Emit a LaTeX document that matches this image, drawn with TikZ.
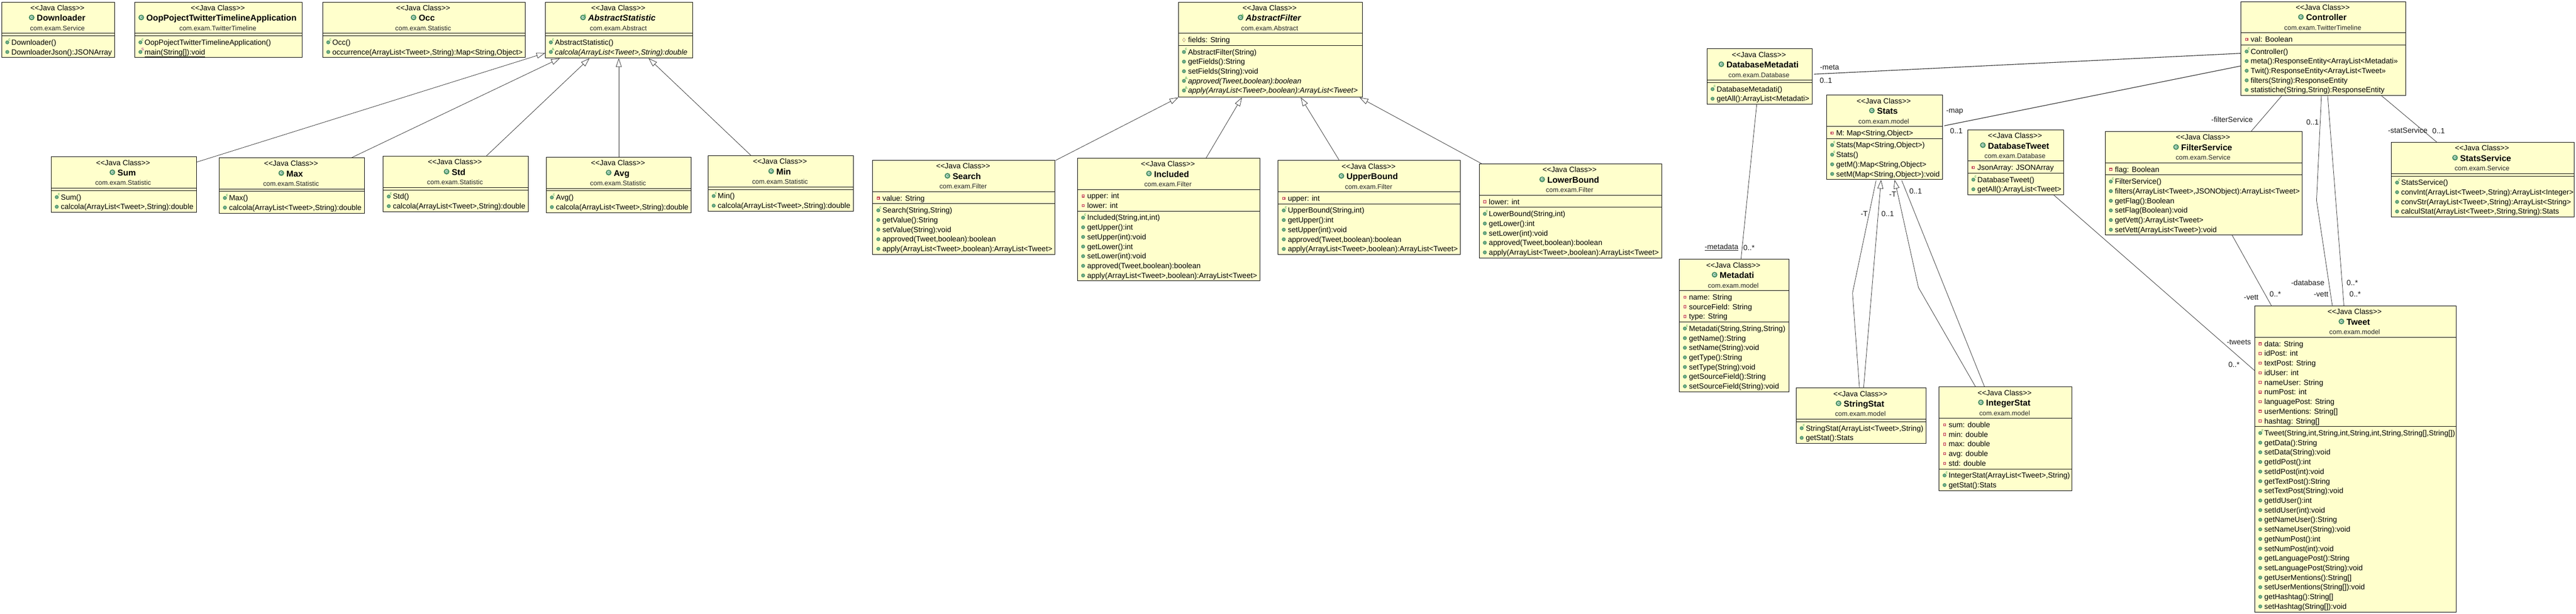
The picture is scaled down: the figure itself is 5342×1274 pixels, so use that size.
\documentclass[tikz,border=0pt]{standalone}
\usepackage{fontspec}
\setmainfont{Liberation Sans}
\usetikzlibrary{arrows.meta, calc}

\definecolor{classfill}{HTML}{FFFFCC}
\definecolor{dotfill}{HTML}{6FAF8A}
\definecolor{dotedge}{HTML}{41885F}
\definecolor{flaggreen}{HTML}{2C9A3C}
\definecolor{flagpurple}{HTML}{A0208A}
\definecolor{privedge}{HTML}{BE3A4A}
\definecolor{privfill}{HTML}{F7D0C8}
\definecolor{protedge}{HTML}{C2AE6A}

\tikzset{
	classframe/.style={draw=black, fill=classfill, line width=1pt, inner sep=0pt, outer sep=0pt},
	classline/.style={draw=black, line width=1pt},
	stereotext/.style={anchor=base, inner sep=0pt, font=\fontsize{15.5}{20}\selectfont},
	titletext/.style={anchor=base, inner sep=0pt, font=\fontsize{17.6}{20}\selectfont\bfseries},
	packtext/.style={anchor=base, inner sep=0pt, text=black!85, font=\fontsize{13.8}{20}\selectfont},
	rowtext/.style={anchor=base west, inner sep=0pt, font=\fontsize{15.5}{20}\selectfont},
	flagtext/.style={inner sep=0pt, font=\fontsize{8}{8}\selectfont},
	edgelabel/.style={inner sep=0pt, text=black!90, font=\fontsize{15.5}{20}\selectfont},
	assoc/.style={draw=black!85, line width=0.8pt},
	inherit/.style={draw=black!85, line width=0.8pt, -{Triangle[open, length=18pt, width=12pt]}},
}

% member icons, the argument is a coordinate
\newcommand{\iconm}[1]{\filldraw[fill=dotfill, draw=dotedge, line width=1pt] (#1) circle (3.4);}
\newcommand{\iconc}[1]{\iconm{#1}\node[flagtext, text=flaggreen] (#1-f) at ($(#1)+(4.5,-5.5)$) {c};}
\newcommand{\icona}[1]{\iconm{#1}\node[flagtext, text=flaggreen] (#1-f) at ($(#1)+(4.5,-5.5)$) {A};}
\newcommand{\icons}[1]{\iconm{#1}\node[flagtext, text=flagpurple] (#1-f) at ($(#1)+(4.5,-5.5)$) {S};}
\newcommand{\iconp}[1]{\filldraw[fill=privfill, draw=privedge, line width=1.2pt] ($(#1)+(-2.4,-2.4)$) rectangle ($(#1)+(2.4,2.4)$);}
\newcommand{\icond}[1]{\filldraw[fill=white, draw=protedge, line width=1pt] ($(#1)+(-2.8,0)$) -- ($(#1)+(0,-4)$) -- ($(#1)+(2.8,0)$) -- ($(#1)+(0,4)$) -- cycle;}

% name, left, top, right, fields, methods, title, package, rows
\newcommand{\classbox}[9]{
	\node[classframe, anchor=north west, minimum width={(#4)-(#2)}, minimum height={75+20*(#5+#6)}] (#1) at (#2,#3) {};
	\draw[classline] ($(#1.north west)+(0,65)$) -- ($(#1.north east)+(0,65)$);
	\draw[classline] ($(#1.north west)+(0,{70+20*(#5)})$) -- ($(#1.north east)+(0,{70+20*(#5)})$);
	\node[stereotext] (#1-st) at ($(#1.north)+(-1.5,17.4)$) {{<}{<}Java Class{>}{>}};
	\node[titletext] (#1-ti) at ($(#1.north)+(6,39.5)$) {#7};
	\node[packtext] (#1-pk) at ($(#1.north)+(-1.5,59)$) {#8};
	\coordinate (#1-ic) at ($(#1-ti.base west)+(-10.5,-7.5)$);
	\filldraw[fill=dotfill, draw=dotedge, line width=1.6pt] (#1-ic) circle (5);
	\node[inner sep=0pt, text=white, font=\fontsize{7.5}{8}\selectfont\bfseries] (#1-c) at (#1-ic) {C};
	\foreach \mk/\mt [count=\mi] in {#9}{
		\pgfmathsetmacro{\my}{84+20*(\mi-1)+(\mi>#5)*5}
		\node[rowtext] (#1-\mi) at ($(#1.north west)+(20,\my)$) {\mt};
		\coordinate (#1-\mi-i) at ($(#1.north west)+(11.7,\my-5.4)$);
		\csname icon\mk\endcsname{#1-\mi-i}
	}
}

\begin{document}
\begin{tikzpicture}[x=1pt, y=-1pt]
	\useasboundingbox (0,0) rectangle (5342,1274);

	% top left classes
	\classbox{Downloader}{3.4}{4.3}{238}{0}{2}{Downloader}{com.exam.Service}
		{c/{Downloader()}, m/{DownloaderJson():JSONArray}}
	\classbox{OopApp}{279.5}{4.3}{627}{0}{2}{OopPojectTwitterTimelineApplication}{com.exam.TwitterTimeline}
		{c/{OopPojectTwitterTimelineApplication()}, s/{\underline{main(String[]):void}}}
	\classbox{Occ}{669}{4.3}{1089}{0}{2}{Occ}{com.exam.Statistic}
		{c/{Occ()}, m/{occurrence(ArrayList<Tweet>,String):Map<String,Object>}}

	% statistics
	\classbox{AbstractStatistic}{1130.6}{4.3}{1436.7}{0}{2.06}{\itshape AbstractStatistic}{com.exam.Abstract}
		{c/{AbstractStatistic()}, a/{\textit{calcola(ArrayList<Tweet>,String):double}}}
	\node[flagtext, text=flaggreen] (AbstractStatistic-a) at ($(AbstractStatistic-ic)+(4,-4.5)$) {A};
	\classbox{Sum}{106}{325.6}{407.6}{0}{2}{Sum}{com.exam.Statistic}
		{c/{Sum()}, m/{calcola(ArrayList<Tweet>,String):double}}
	\classbox{Max}{454.7}{327.3}{755.5}{0}{2}{Max}{com.exam.Statistic}
		{c/{Max()}, m/{calcola(ArrayList<Tweet>,String):double}}
	\classbox{Std}{794.5}{324.3}{1095.4}{0}{2}{Std}{com.exam.Statistic}
		{c/{Std()}, m/{calcola(ArrayList<Tweet>,String):double}}
	\classbox{Avg}{1132.7}{326.3}{1433.7}{0}{2}{Avg}{com.exam.Statistic}
		{c/{Avg()}, m/{calcola(ArrayList<Tweet>,String):double}}
	\classbox{Min}{1468.3}{323.3}{1769.7}{0}{2}{Min}{com.exam.Statistic}
		{c/{Min()}, m/{calcola(ArrayList<Tweet>,String):double}}

	% filters
	\classbox{AbstractFilter}{2443.5}{4.3}{2825.3}{1}{5.1}{\itshape AbstractFilter}{com.exam.Abstract}
		{d/{fields: String}, c/{AbstractFilter(String)}, m/{getFields():String}, m/{setFields(String):void},
		 a/{\textit{approved(Tweet,boolean):boolean}}, a/{\textit{apply(ArrayList<Tweet>,boolean):ArrayList<Tweet>}}}
	\node[flagtext, text=flaggreen] (AbstractFilter-a) at ($(AbstractFilter-ic)+(4,-4.5)$) {A};
	\classbox{Search}{1809.7}{333}{2187.9}{1}{5}{Search}{com.exam.Filter}
		{p/{value: String}, c/{Search(String,String)}, m/{getValue():String}, m/{setValue(String):void},
		 m/{approved(Tweet,boolean):boolean}, m/{apply(ArrayList<Tweet>,boolean):ArrayList<Tweet>}}
	\classbox{Included}{2234.4}{328.2}{2612.6}{2}{7}{Included}{com.exam.Filter}
		{p/{upper: int}, p/{lower: int}, c/{Included(String,int,int)}, m/{getUpper():int}, m/{setUpper(int):void},
		 m/{getLower():int}, m/{setLower(int):void}, m/{approved(Tweet,boolean):boolean},
		 m/{apply(ArrayList<Tweet>,boolean):ArrayList<Tweet>}}
	\classbox{UpperBound}{2650.5}{333.2}{3028.8}{1}{5}{UpperBound}{com.exam.Filter}
		{p/{upper: int}, c/{UpperBound(String,int)}, m/{getUpper():int}, m/{setUpper(int):void},
		 m/{approved(Tweet,boolean):boolean}, m/{apply(ArrayList<Tweet>,boolean):ArrayList<Tweet>}}
	\classbox{LowerBound}{3067.4}{340.4}{3445.6}{1}{5}{LowerBound}{com.exam.Filter}
		{p/{lower: int}, c/{LowerBound(String,int)}, m/{getLower():int}, m/{setLower(int):void},
		 m/{approved(Tweet,boolean):boolean}, m/{apply(ArrayList<Tweet>,boolean):ArrayList<Tweet>}}

	% model and database
	\classbox{DatabaseMetadati}{3539.7}{101.4}{3758.4}{0}{2}{DatabaseMetadati}{com.exam.Database}
		{c/{DatabaseMetadati()}, m/{getAll():ArrayList<Metadati>}}
	\classbox{Metadati}{3482.3}{538.3}{3709.6}{3}{7}{Metadati}{com.exam.model}
		{p/{name: String}, p/{sourceField: String}, p/{type: String}, c/{Metadati(String,String,String)},
		 m/{getName():String}, m/{setName(String):void}, m/{getType():String}, m/{setType(String):void},
		 m/{getSourceField():String}, m/{setSourceField(String):void}}
	\classbox{Stats}{3787.7}{197.5}{4028.2}{1}{4}{Stats}{com.exam.model}
		{p/{M: Map<String,Object>}, c/{Stats(Map<String,Object>)}, c/{Stats()}, m/{getM():Map<String,Object>},
		 m/{setM(Map<String,Object>):void}}
	\classbox{StringStat}{3724.5}{805.3}{3994.3}{0}{2}{StringStat}{com.exam.model}
		{c/{StringStat(ArrayList<Tweet>,String)}, m/{getStat():Stats}}
	\classbox{IntegerStat}{4020.8}{803.3}{4296.3}{5}{2}{IntegerStat}{com.exam.model}
		{p/{sum: double}, p/{min: double}, p/{max: double}, p/{avg: double}, p/{std: double},
		 c/{IntegerStat(ArrayList<Tweet>,String)}, m/{getStat():Stats}}
	\classbox{DatabaseTweet}{4080.5}{269.3}{4279.6}{1}{2}{DatabaseTweet}{com.exam.Database}
		{p/{JsonArray: JSONArray}, c/{DatabaseTweet()}, m/{getAll():ArrayList<Tweet>}}

	% controller and services
	\classbox{Controller}{4647.3}{3.2}{4989.2}{1}{5}{Controller}{com.exam.TwitterTimeline}
		{p/{val: Boolean}, c/{Controller()}, m/{meta():ResponseEntity<ArrayList<Metadati>>},
		 m/{Twit():ResponseEntity<ArrayList<Tweet>>}, m/{filters(String):ResponseEntity},
		 m/{statistiche(String,String):ResponseEntity}}
	\classbox{FilterService}{4365.6}{273.2}{4774.5}{1}{6}{FilterService}{com.exam.Service}
		{p/{flag: Boolean}, c/{FilterService()}, m/{filters(ArrayList<Tweet>,JSONObject):ArrayList<Tweet>},
		 m/{getFlag():Boolean}, m/{setFlag(Boolean):void}, m/{getVett():ArrayList<Tweet>},
		 m/{setVett(ArrayList<Tweet>):void}}
	\classbox{StatsService}{4959.2}{295.4}{5338}{0}{4}{StatsService}{com.exam.Service}
		{c/{StatsService()}, m/{convInt(ArrayList<Tweet>,String):ArrayList<Integer>},
		 m/{convStr(ArrayList<Tweet>,String):ArrayList<String>}, m/{calculStat(ArrayList<Tweet>,String,String):Stats}}
	\classbox{Tweet}{4675.5}{635.3}{5093.4}{9}{19}{Tweet}{com.exam.model}
		{p/{data: String}, p/{idPost: int}, p/{textPost: String}, p/{idUser: int}, p/{nameUser: String},
		 p/{numPost: int}, p/{languagePost: String}, p/{userMentions: String[]}, p/{hashtag: String[]},
		 c/{Tweet(String,int,String,int,String,int,String,String[],String[])},
		 m/{getData():String}, m/{setData(String):void}, m/{getIdPost():int}, m/{setIdPost(int):void},
		 m/{getTextPost():String}, m/{setTextPost(String):void}, m/{getIdUser():int}, m/{setIdUser(int):void},
		 m/{getNameUser():String}, m/{setNameUser(String):void}, m/{getNumPost():int}, m/{setNumPost(int):void},
		 m/{getLanguagePost():String}, m/{setLanguagePost(String):void}, m/{getUserMentions():String[]},
		 m/{setUserMentions(String[]):void}, m/{getHashtag():String[]}, m/{setHashtag(String[]):void}}

	% inheritance
	\draw[inherit] ($(Sum.north east)+(0,11)$) -- ($(AbstractStatistic.south west)+(0,-10.5)$);
	\draw[inherit] ($(Max.north west)+(274.3,0)$) -- ($(AbstractStatistic.south west)+(30.4,0.5)$);
	\draw[inherit] ($(Std.north west)+(213.5,0)$) -- ($(AbstractStatistic.south west)+(91.8,0.5)$);
	\draw[inherit] (Avg.north) -- ($(Avg.north |- AbstractStatistic.south)+(0,0.5)$);
	\draw[inherit] ($(Min.north west)+(89.7,0)$) -- ($(AbstractStatistic.south west)+(214.4,0.5)$);

	\draw[inherit] ($(Search.north east)+(1,0)$) -- ($(AbstractFilter.south west)+(0,1)$);
	\draw[inherit] ($(Included.north west)+(266.6,0)$) -- ($(AbstractFilter.south west)+(131.9,1)$);
	\draw[inherit] ($(UpperBound.north west)+(127,0)$) -- ($(AbstractFilter.south west)+(254,1)$);
	\draw[inherit] ($(LowerBound.north west)+(6.3,0)$) -- ($(AbstractFilter.south east)+(-6,1)$);

	\draw[inherit] ($(StringStat.north west)+(140.1,0)$) -- ($(Stats.south west)+(113.1,1)$);
	\coordinate (intBend) at (3978.3,596.7);
	\draw[inherit] ($(IntegerStat.north west)+(76.2,0)$) -- (intBend) -- ($(Stats.south west)+(141.3,1)$);

	% associations
	\draw[assoc, line width=1.2pt] ($(DatabaseMetadati.north east)+(3,52.6)$) -- ($(Controller.north west)+(0,107.5)$);
	\draw[assoc, line width=1.2pt] ($(Stats.north east)+(4,63.5)$) -- ($(Controller.north west)+(0,133.6)$);
	\draw[assoc] ($(DatabaseMetadati.south west)+(103.3,0)$) -- ($(Metadati.north west)+(128,0)$);
	\coordinate (strBend) at (3841.6,608.3);
	\draw[assoc] ($(Stats.south west)+(102.7,2.3)$) -- (strBend) -- ($(StringStat.north west)+(131.5,0)$);
	\draw[assoc] ($(Stats.south west)+(156.1,2.3)$) -- ($(IntegerStat.north west)+(94.7,0)$);
	\draw[assoc] ($(DatabaseTweet.south west)+(177.9,0)$) -- ($(Tweet.north west)+(0,134)$);
	\draw[assoc] ($(FilterService.south west)+(263.2,0)$) -- ($(Tweet.north west)+(35.2,0)$);
	\coordinate (ctlBend) at (4803.9,416);
	\draw[assoc] ($(Controller.south west)+(166.7,1)$) -- (ctlBend) -- ($(Tweet.north west)+(161.2,0)$);
	\draw[assoc] ($(Controller.south west)+(179.7,1)$) -- ($(Tweet.north west)+(185.2,0)$);
	\draw[assoc] ($(Controller.south west)+(85,0)$) -- ($(FilterService.north west)+(302.2,0)$);
	\draw[assoc] ($(Controller.south west)+(290.7,0)$) -- ($(StatsService.north west)+(94.5,0)$);

	% role names and multiplicities
	\node[edgelabel] (metaRole) at (3794,140) {-meta};
	\node[edgelabel] (metaMult) at (3786.5,166.8) {0..1};
	\node[edgelabel] (mapRole) at (4053.5,232) {-map};
	\node[edgelabel] (mapMult) at (4057,271.4) {0..1};
	\node[edgelabel] (metadataRole) at (3570,513.6) {\underline{-metadata}};
	\node[edgelabel] (metadataMult) at (3627,514) {0..*};
	\node[edgelabel] (strRole) at (3865.8,443.6) {-T};
	\node[edgelabel] (strMult) at (3914.6,443.6) {0..1};
	\node[edgelabel] (intRole) at (3925,403.6) {-T};
	\node[edgelabel] (intMult) at (3972.5,397) {0..1};
	\node[edgelabel] (tweetsRole) at (4642.9,710) {-tweets};
	\node[edgelabel] (tweetsMult) at (4632.7,756.7) {0..*};
	\node[edgelabel] (vettRole) at (4668.4,617.7) {-vett};
	\node[edgelabel] (vettMult) at (4718.4,611) {0..*};
	\node[edgelabel] (dbRole) at (4785.7,586.7) {-database};
	\node[edgelabel] (dbMult) at (4878,587.3) {0..*};
	\node[edgelabel] (ctlRole) at (4813.3,610.7) {-vett};
	\node[edgelabel] (ctlMult) at (4884,611) {0..*};
	\node[edgelabel] (ctlOne) at (4795.6,253.6) {0..1};
	\node[edgelabel] (filterRole) at (4628.8,248.6) {-filterService};
	\node[edgelabel] (statRole) at (4993,271) {-statService};
	\node[edgelabel] (statMult) at (5057,271.4) {0..1};
\end{tikzpicture}
\end{document}
